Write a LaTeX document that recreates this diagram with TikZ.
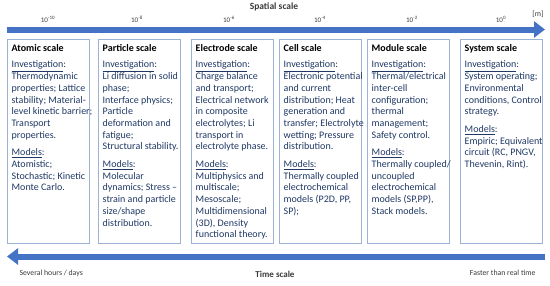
\documentclass[tikz,border=0pt]{standalone}
\usepackage{fontspec}
\setmainfont{Carlito}
\usetikzlibrary{positioning,arrows.meta}
\definecolor{barblue}{HTML}{4472C4}
\definecolor{boxline}{HTML}{9DB3D6}
\definecolor{bodytext}{HTML}{1F3864}
\definecolor{axistext}{HTML}{3A3A3A}
\newcommand{\invlabel}{\underline{Investigation}:}
\newcommand{\mdllabel}{\underline{Models}:}

\begin{document}
\begin{tikzpicture}[x=1pt, y=-1pt,
        scalebox/.style={rectangle, draw=boxline, line width=0.8pt,
          minimum width=82pt, minimum height=204pt, anchor=north west,
          inner sep=0pt},
        scaletext/.style={anchor=north west, align=left, inner sep=0pt,
          text=bodytext, font=\fontsize{10}{11.7}\selectfont},
        expo/.style={font=\fontsize{7}{8}\selectfont, text=axistext},
        scalebar/.style={barblue, line width=6pt,
          -{Triangle[length=11pt, width=16pt]}},
        axislabel/.style={font=\fontsize{7.8}{9}\selectfont, text=axistext},
      ]
      \useasboundingbox (0,0) rectangle (550,285);

      % spatial axis
      \node[font=\bfseries\fontsize{9.5}{11}\selectfont, text=axistext] (spacetitle) at (274,7) {Spatial scale};
      \node[axislabel] (unit) at (538,14) {[m]};
      \coordinate (spacestart) at (7,29.5);
      \coordinate (spaceend) at (545,29.5);
      \draw[scalebar] (spacestart) -- (spaceend);

      \node[expo] (e1) at (48,19) {10\textsuperscript{-10}};
      \node[expo] (e2) at (137,19) {10\textsuperscript{-8}};
      \node[expo] (e3) at (229,19) {10\textsuperscript{-6}};
      \node[expo] (e4) at (320,19) {10\textsuperscript{-4}};
      \node[expo] (e5) at (412,19) {10\textsuperscript{-2}};
      \node[expo] (e6) at (501,19) {10\textsuperscript{0}};

      % boxes
      \node[scalebox] (atombox) at (7,39) {};
      \node[scalebox] (partbox) at (98,39) {};
      \node[scalebox] (electbox) at (191,39) {};
      \node[scalebox] (cellbox) at (279,39) {};
      \node[scalebox] (modbox) at (367,39) {};
      \node[scalebox] (sysbox) at (460,39) {};

      \node[scaletext] (atomtext) at ([xshift=4.5pt,yshift=-5pt]atombox.north west)
        {\textbf{\color{black}Atomic scale}\\[5pt]
         \invlabel\\Thermodynamic\\properties; Lattice\\stability; Material-\\level kinetic barrier;\\Transport\\properties.\\[6pt]
         \mdllabel\\Atomistic;\\Stochastic; Kinetic\\Monte Carlo.};
      \node[scaletext] (parttext) at ([xshift=4.5pt,yshift=-5pt]partbox.north west)
        {\textbf{\color{black}Particle scale}\\[5pt]
         \invlabel\\Li diffusion in solid\\phase;\\Interface physics;\\Particle\\deformation and\\fatigue;\\Structural stability.\\[6pt]
         \mdllabel\\Molecular\\dynamics; Stress --\\strain and particle\\size/shape\\distribution.};
      \node[scaletext] (electtext) at ([xshift=4.5pt,yshift=-5pt]electbox.north west)
        {\textbf{\color{black}Electrode scale}\\[5pt]
         \invlabel\\Charge balance\\and transport;\\Electrical network\\in composite\\electrolytes; Li\\transport in\\electrolyte phase.\\[6pt]
         \mdllabel\\Multiphysics and\\multiscale;\\Mesoscale;\\Multidimensional\\(3D), Density\\functional theory.};
      \node[scaletext] (celltext) at ([xshift=4.5pt,yshift=-5pt]cellbox.north west)
        {\textbf{\color{black}Cell scale}\\[5pt]
         \invlabel\\Electronic potential\\and current\\distribution; Heat\\generation and\\transfer; Electrolyte\\wetting; Pressure\\distribution.\\[6pt]
         \mdllabel\\Thermally coupled\\electrochemical\\models (P2D, PP,\\SP);};
      \node[scaletext] (modtext) at ([xshift=4.5pt,yshift=-5pt]modbox.north west)
        {\textbf{\color{black}Module scale}\\[5pt]
         \invlabel\\Thermal/electrical\\inter-cell\\configuration;\\thermal\\management;\\Safety control.\\[6pt]
         \mdllabel\\Thermally coupled/\\uncoupled\\electrochemical\\models (SP,PP),\\Stack models.};
      \node[scaletext] (systext) at ([xshift=4.5pt,yshift=-5pt]sysbox.north west)
        {\textbf{\color{black}System scale}\\[5pt]
         \invlabel\\System operating;\\Environmental\\conditions, Control\\strategy.\\[6pt]
         \mdllabel\\Empiric; Equivalent\\circuit (RC, PNGV,\\Thevenin, Rint).};

      % time axis
      \coordinate (timestart) at (545,256.5);
      \coordinate (timeend) at (7,256.5);
      \draw[scalebar] (timestart) -- (timeend);
      \node[axislabel, anchor=west] (slow) at (16,273) {Several hours / days};
      \node[font=\bfseries\fontsize{9}{10}\selectfont, text=axistext] (timetitle) at (275,274) {Time scale};
      \node[axislabel, anchor=east] (fast) at (539,273) {Faster than real time};
    \end{tikzpicture}
\end{document}
